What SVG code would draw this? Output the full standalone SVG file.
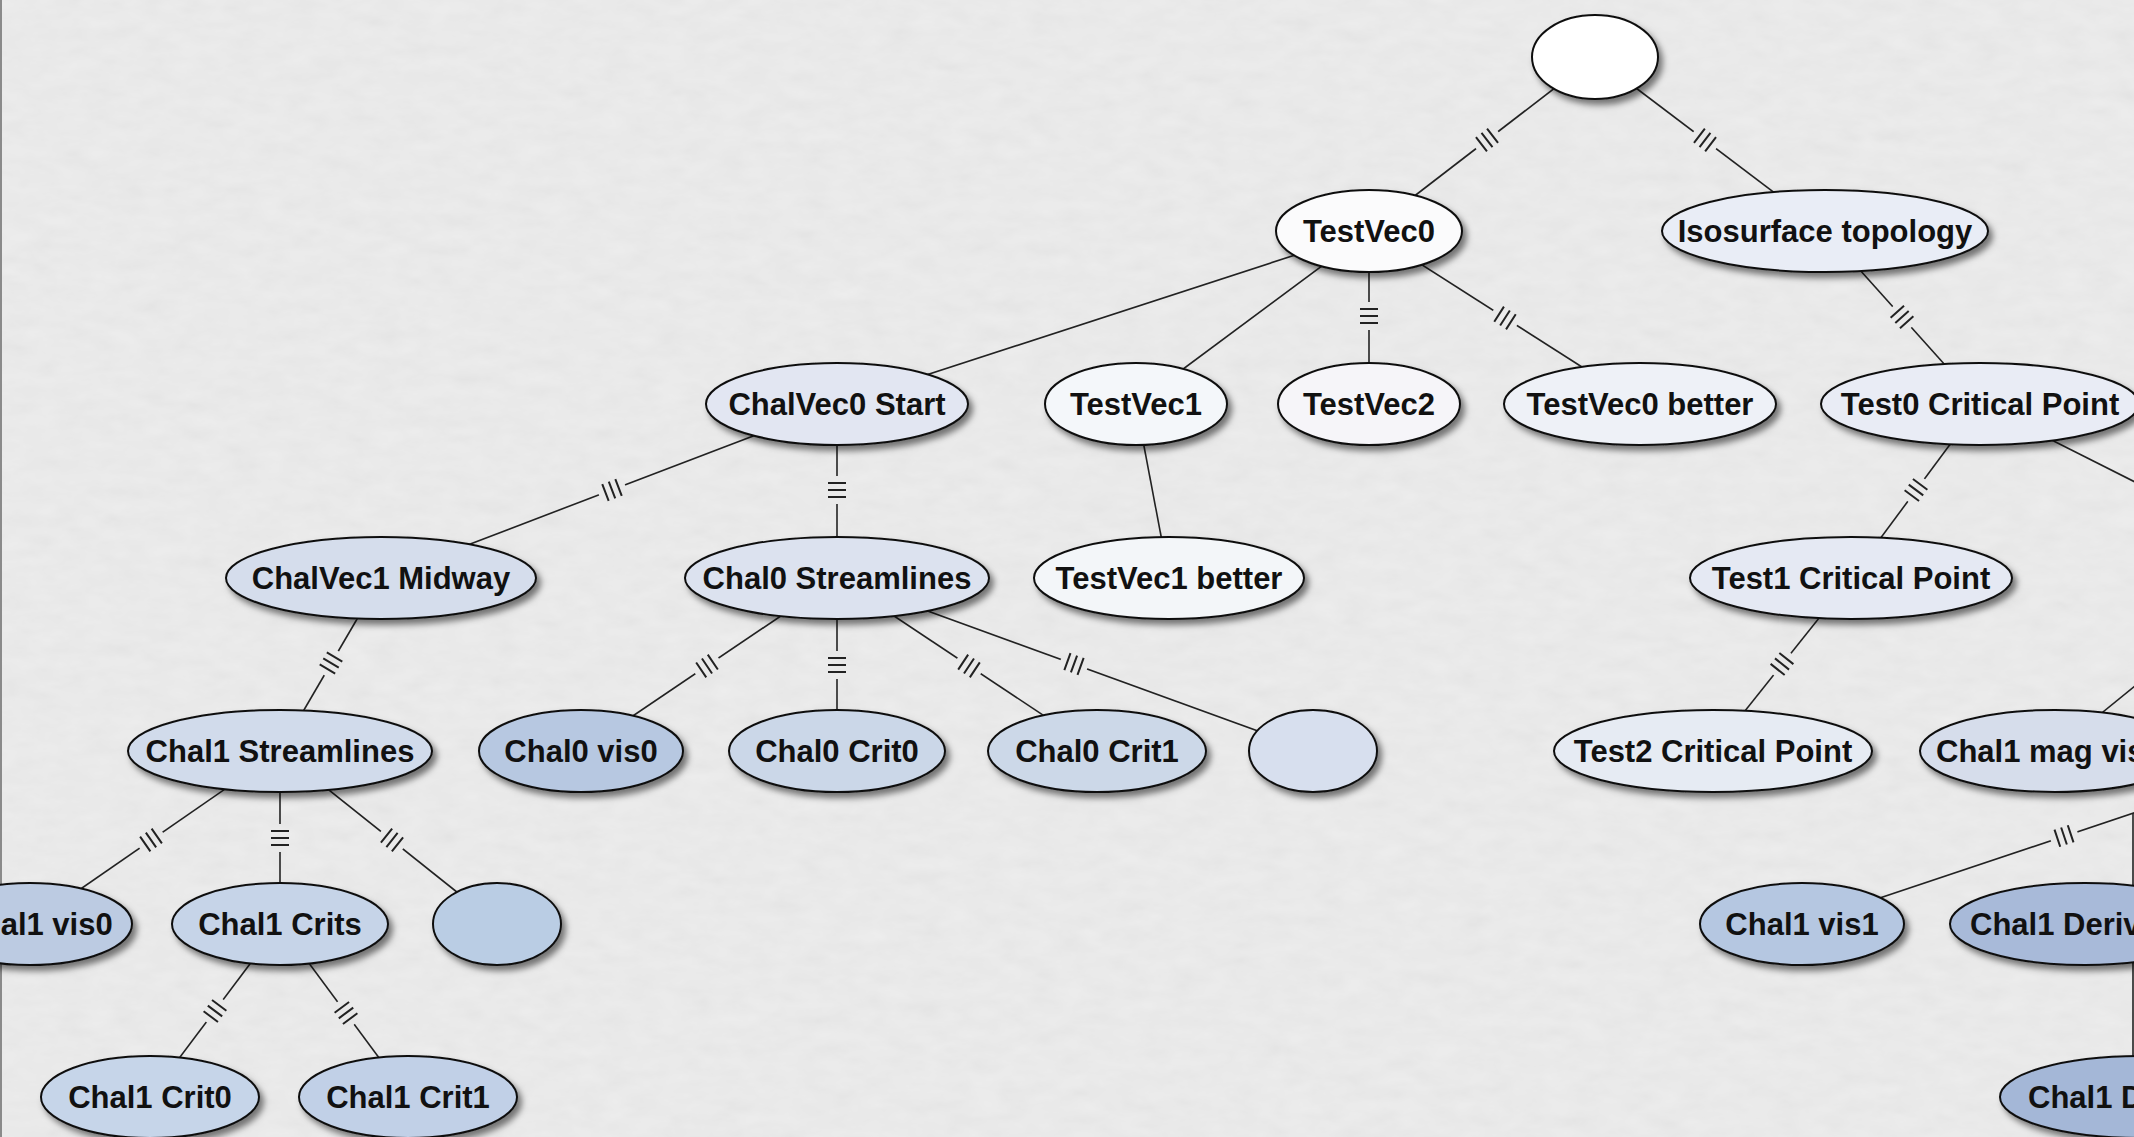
<svg xmlns="http://www.w3.org/2000/svg" xmlns:xlink="http://www.w3.org/1999/xlink" width="2134" height="1137" viewBox="0 0 2134 1137">
<style>
.node ellipse{stroke:#111;stroke-width:2;filter:url(#sh)}
.node text{font-family:"Liberation Sans",Arial,sans-serif;font-weight:bold;font-size:31px;fill:#111;text-anchor:middle}
.node text.st{text-anchor:start}
.edge{stroke:#222;stroke-width:1.6;fill:none}
.tk{stroke:#222;stroke-width:2;fill:none}
</style>
<defs>
<filter id="sh" x="-20%" y="-30%" width="150%" height="170%">
<feDropShadow dx="4" dy="5" stdDeviation="3" flood-color="#000" flood-opacity="0.5"/>
</filter>
<filter id="paper" x="0" y="0" width="100%" height="100%">
<feTurbulence type="fractalNoise" baseFrequency="0.035 0.07" numOctaves="3" seed="4"/>
<feColorMatrix type="matrix" values="0.33 0.33 0.33 0 0 0.33 0.33 0.33 0 0 0.33 0.33 0.33 0 0 0 0 0 0 1"/>
</filter>
<path id="tick3" class="tk" d="M-7,-9V9 M0,-9V9 M7,-9V9"/>
<rect id="gap" x="-14" y="-5" width="28" height="10" fill="#000"/>
<mask id="gaps" maskUnits="userSpaceOnUse" x="0" y="0" width="2134" height="1137">
<rect width="2134" height="1137" fill="#fff"/>
<use xlink:href="#gap" transform="translate(1487,140) rotate(142.4)"/>
<use xlink:href="#gap" transform="translate(1705,140) rotate(37.1)"/>
<use xlink:href="#gap" transform="translate(1369,316) rotate(90)"/>
<use xlink:href="#gap" transform="translate(1505,318) rotate(32.55)"/>
<use xlink:href="#gap" transform="translate(1902,317) rotate(48.1)"/>
<use xlink:href="#gap" transform="translate(612,490) rotate(159.1)"/>
<use xlink:href="#gap" transform="translate(837,490) rotate(90)"/>
<use xlink:href="#gap" transform="translate(1916,490) rotate(126.5)"/>
<use xlink:href="#gap" transform="translate(2064,836) rotate(-18.5)"/>
<use xlink:href="#gap" transform="translate(331,663) rotate(120.5)"/>
<use xlink:href="#gap" transform="translate(707,666) rotate(145.95)"/>
<use xlink:href="#gap" transform="translate(837,665) rotate(90)"/>
<use xlink:href="#gap" transform="translate(969,666) rotate(33.6)"/>
<use xlink:href="#gap" transform="translate(1074,664) rotate(19.97)"/>
<use xlink:href="#gap" transform="translate(1782,664) rotate(128.6)"/>
<use xlink:href="#gap" transform="translate(151,840) rotate(145.2)"/>
<use xlink:href="#gap" transform="translate(280,838) rotate(90)"/>
<use xlink:href="#gap" transform="translate(392,840) rotate(38.56)"/>
<use xlink:href="#gap" transform="translate(215,1011) rotate(126.9)"/>
<use xlink:href="#gap" transform="translate(346,1013) rotate(53.5)"/>
</mask>
</defs>
<rect width="2134" height="1137" fill="#eeeeee"/>
<rect width="2134" height="1137" filter="url(#paper)" opacity="0.08"/>
<line x1="1" y1="0" x2="1" y2="1137" stroke="#8a8a8a" stroke-width="2"/>
<g id="connectors">
<g mask="url(#gaps)">
<line class="edge" x1="1595" y1="57" x2="1369" y2="231"/>
<line class="edge" x1="1595" y1="57" x2="1825" y2="231"/>
<line class="edge" x1="1369" y1="231" x2="837" y2="404"/>
<line class="edge" x1="1369" y1="231" x2="1136" y2="404"/>
<line class="edge" x1="1369" y1="231" x2="1369" y2="404"/>
<line class="edge" x1="1369" y1="231" x2="1640" y2="404"/>
<line class="edge" x1="1825" y1="231" x2="1980" y2="404"/>
<line class="edge" x1="837" y1="404" x2="381" y2="578"/>
<line class="edge" x1="837" y1="404" x2="837" y2="578"/>
<line class="edge" x1="1136" y1="404" x2="1169" y2="578"/>
<line class="edge" x1="1980" y1="404" x2="1851" y2="578"/>
<line class="edge" x1="1980" y1="404" x2="2290" y2="560"/>
<line class="edge" x1="2290" y1="560" x2="2055" y2="751"/>
<line class="edge" x1="1802" y1="924" x2="2400" y2="724"/>
<line class="edge" x1="381" y1="578" x2="280" y2="751"/>
<line class="edge" x1="837" y1="578" x2="581" y2="751"/>
<line class="edge" x1="837" y1="578" x2="837" y2="751"/>
<line class="edge" x1="837" y1="578" x2="1097" y2="751"/>
<line class="edge" x1="837" y1="578" x2="1313" y2="751"/>
<line class="edge" x1="1851" y1="578" x2="1713" y2="751"/>
<line class="edge" x1="280" y1="751" x2="30" y2="924"/>
<line class="edge" x1="280" y1="751" x2="280" y2="924"/>
<line class="edge" x1="280" y1="751" x2="497" y2="924"/>
<line class="edge" x1="280" y1="924" x2="150" y2="1097"/>
<line class="edge" x1="280" y1="924" x2="408" y2="1097"/>
<line class="edge" x1="2133" y1="813" x2="2133" y2="1137"/>
</g>
<g id="marks">
<use xlink:href="#tick3" transform="translate(1487,140) rotate(142.4)"/>
<use xlink:href="#tick3" transform="translate(1705,140) rotate(37.1)"/>
<use xlink:href="#tick3" transform="translate(1369,316) rotate(90)"/>
<use xlink:href="#tick3" transform="translate(1505,318) rotate(32.55)"/>
<use xlink:href="#tick3" transform="translate(1902,317) rotate(48.1)"/>
<use xlink:href="#tick3" transform="translate(612,490) rotate(159.1)"/>
<use xlink:href="#tick3" transform="translate(837,490) rotate(90)"/>
<use xlink:href="#tick3" transform="translate(1916,490) rotate(126.5)"/>
<use xlink:href="#tick3" transform="translate(2064,836) rotate(-18.5)"/>
<use xlink:href="#tick3" transform="translate(331,663) rotate(120.5)"/>
<use xlink:href="#tick3" transform="translate(707,666) rotate(145.95)"/>
<use xlink:href="#tick3" transform="translate(837,665) rotate(90)"/>
<use xlink:href="#tick3" transform="translate(969,666) rotate(33.6)"/>
<use xlink:href="#tick3" transform="translate(1074,664) rotate(19.97)"/>
<use xlink:href="#tick3" transform="translate(1782,664) rotate(128.6)"/>
<use xlink:href="#tick3" transform="translate(151,840) rotate(145.2)"/>
<use xlink:href="#tick3" transform="translate(280,838) rotate(90)"/>
<use xlink:href="#tick3" transform="translate(392,840) rotate(38.56)"/>
<use xlink:href="#tick3" transform="translate(215,1011) rotate(126.9)"/>
<use xlink:href="#tick3" transform="translate(346,1013) rotate(53.5)"/>
</g>
</g>
<g id="n-root" class="node"><ellipse cx="1595" cy="57" rx="63" ry="42" fill="#ffffff"/></g>
<g id="n-testvec0" class="node"><ellipse cx="1369" cy="231" rx="93" ry="41" fill="#fbfbfc"/><text x="1369" y="242">TestVec0</text></g>
<g id="n-isosurface" class="node"><ellipse cx="1825" cy="231" rx="163" ry="41" fill="#e9edf6"/><text x="1825" y="242">Isosurface topology</text></g>
<g id="n-chalvec0" class="node"><ellipse cx="837" cy="404" rx="131" ry="41" fill="#e2e6f2"/><text x="837" y="415">ChalVec0 Start</text></g>
<g id="n-testvec1" class="node"><ellipse cx="1136" cy="404" rx="91" ry="41" fill="#f4f7fa"/><text x="1136" y="415">TestVec1</text></g>
<g id="n-testvec2" class="node"><ellipse cx="1369" cy="404" rx="91" ry="41" fill="#f6f5f9"/><text x="1369" y="415">TestVec2</text></g>
<g id="n-testvec0b" class="node"><ellipse cx="1640" cy="404" rx="136" ry="41" fill="#eef1f7"/><text x="1640" y="415">TestVec0 better</text></g>
<g id="n-test0cp" class="node"><ellipse cx="1980" cy="404" rx="159" ry="41" fill="#e9ecf5"/><text x="1980" y="415">Test0 Critical Point</text></g>
<g id="n-chalvec1" class="node"><ellipse cx="381" cy="578" rx="155" ry="41" fill="#d5ddec"/><text x="381" y="589">ChalVec1 Midway</text></g>
<g id="n-chal0s" class="node"><ellipse cx="837" cy="578" rx="152" ry="41" fill="#dce2ef"/><text x="837" y="589">Chal0 Streamlines</text></g>
<g id="n-testvec1b" class="node"><ellipse cx="1169" cy="578" rx="135" ry="41" fill="#f3f6f9"/><text x="1169" y="589">TestVec1 better</text></g>
<g id="n-test1cp" class="node"><ellipse cx="1851" cy="578" rx="161" ry="41" fill="#e5e9f3"/><text x="1851" y="589">Test1 Critical Point</text></g>
<g id="n-chal1s" class="node"><ellipse cx="280" cy="751" rx="152" ry="41" fill="#d1dbeb"/><text x="280" y="762">Chal1 Streamlines</text></g>
<g id="n-chal0vis0" class="node"><ellipse cx="581" cy="751" rx="102" ry="41" fill="#b7c8e1"/><text x="581" y="762">Chal0 vis0</text></g>
<g id="n-chal0crit0" class="node"><ellipse cx="837" cy="751" rx="108" ry="41" fill="#cbd7e8"/><text x="837" y="762">Chal0 Crit0</text></g>
<g id="n-chal0crit1" class="node"><ellipse cx="1097" cy="751" rx="109" ry="41" fill="#ccd8e8"/><text x="1097" y="762">Chal0 Crit1</text></g>
<g id="n-empty1" class="node"><ellipse cx="1313" cy="751" rx="64" ry="41" fill="#d7dfee"/></g>
<g id="n-test2cp" class="node"><ellipse cx="1713" cy="751" rx="159" ry="41" fill="#e6ebf3"/><text x="1713" y="762">Test2 Critical Point</text></g>
<g id="n-chal1magvis" class="node"><ellipse cx="2055" cy="751" rx="135" ry="41" fill="#d6ddeb"/><text class="st" x="1936" y="762">Chal1 mag vis</text></g>
<g id="n-chal1vis0" class="node"><ellipse cx="30" cy="924" rx="102" ry="41" fill="#bccbe2"/><text x="36" y="935">Chal1 vis0</text></g>
<g id="n-chal1crits" class="node"><ellipse cx="280" cy="924" rx="108" ry="41" fill="#c6d4e8"/><text x="280" y="935">Chal1 Crits</text></g>
<g id="n-empty2" class="node"><ellipse cx="497" cy="924" rx="64" ry="41" fill="#bacde4"/></g>
<g id="n-chal1vis1" class="node"><ellipse cx="1802" cy="924" rx="102" ry="41" fill="#b5c7e1"/><text x="1802" y="935">Chal1 vis1</text></g>
<g id="n-chal1deriv" class="node"><ellipse cx="2085" cy="924" rx="135" ry="41" fill="#a8bad9"/><text class="st" x="1970" y="935">Chal1 Deriv</text></g>
<g id="n-chal1crit0" class="node"><ellipse cx="150" cy="1097" rx="109" ry="41" fill="#c6d5e9"/><text x="150" y="1108">Chal1 Crit0</text></g>
<g id="n-chal1crit1" class="node"><ellipse cx="408" cy="1097" rx="109" ry="41" fill="#c1d0e7"/><text x="408" y="1108">Chal1 Crit1</text></g>
<g id="n-chal1d" class="node"><ellipse cx="2140" cy="1097" rx="140" ry="41" fill="#a4b7d7"/><text class="st" x="2028" y="1108">Chal1 D</text></g>
</svg>
